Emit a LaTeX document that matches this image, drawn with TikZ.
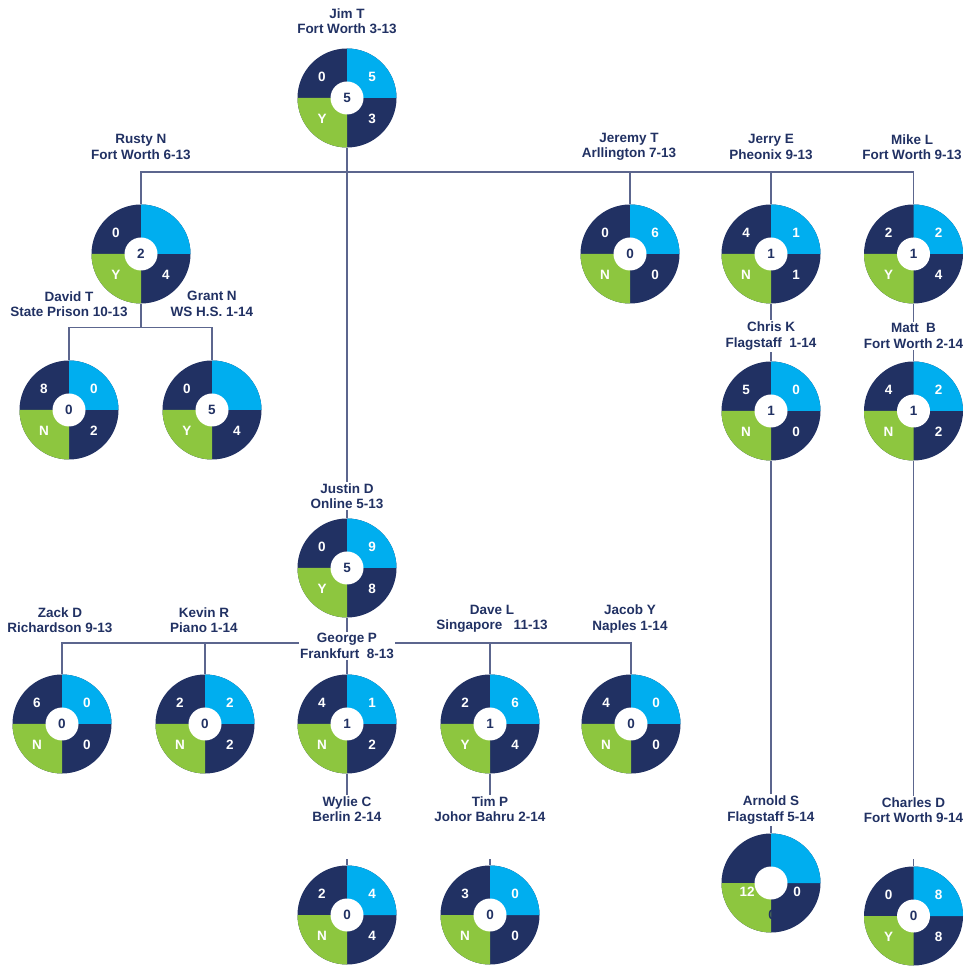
\documentclass[tikz,border=0pt]{standalone}
\usepackage{fontspec}
\setsansfont{Liberation Sans}
\usepackage{xcolor}
\usepackage{tikz}
\usetikzlibrary{positioning}
\usetikzlibrary{backgrounds}
\definecolor{dnavy}{RGB}{33,49,99}
\definecolor{dblue}{RGB}{0,174,239}
\definecolor{dgreen}{RGB}{141,198,63}
\definecolor{dline}{RGB}{92,102,142}
\tikzset{
    ring/.style = {circle, draw=none, inner sep=0pt, minimum size=99pt},
    qnum/.style = {text=white, inner sep=0pt, font=\sffamily\bfseries\fontsize{13.5}{15}\selectfont},
    cnum/.style = {text=dnavy, inner sep=0pt, font=\sffamily\bfseries\fontsize{13.5}{15}\selectfont},
    lbl/.style = {align=center, text=dnavy, inner sep=1.5pt, font=\sffamily\bfseries\fontsize{13.5}{15.5}\selectfont},
    lblw/.style = {lbl, fill=white},
}
% name, x, y, top-left, top-right, bottom-left, bottom-right, centre
\newcommand{\donut}[8]{%
  \fill[dnavy] (#2,#3) circle (49.5pt);
  \fill[dblue] (#2,#3) -- ++(0,49.5pt) arc (90:0:49.5pt) -- cycle;
  \fill[dgreen] (#2,#3) -- ++(0,-49.5pt) arc (270:180:49.5pt) -- cycle;
  \fill[white] (#2,#3) circle (16.5pt);
  \node[ring] (#1) at (#2,#3) {};
  \node[qnum] at ([shift={(-25pt,21pt)}]#1.center) {#4};
  \node[qnum] at ([shift={(25pt,21pt)}]#1.center) {#5};
  \node[qnum] at ([shift={(-25pt,-21pt)}]#1.center) {#6};
  \node[qnum] at ([shift={(25pt,-21pt)}]#1.center) {#7};
  \node[cnum] at (#1.center) {#8};
}
\begin{document}
\begin{tikzpicture}[x=1pt, y=1pt]
\tikzset{
    link/.style = {draw=dline, line width=1.4pt}
}
\useasboundingbox (0,0) rectangle (969,967);
%
\node[lbl] at (347,946) (jimL) {Jim T\\Fort Worth 3-13};
\node[lbl] at (141,820) (rustyL) {Rusty N\\Fort Worth 6-13};
\node[lbl] at (69,663) (davidL) {David T\\State Prison 10-13};
\node[lbl] at (212,663) (grantL) {Grant N\\WS H.S. 1-14};
\node[lbl] at (629,820) (jeremyL) {Jeremy T\\Arllington 7-13};
\node[lbl] at (771,820) (jerryL) {Jerry E\\Pheonix 9-13};
\node[lbl] at (912,820) (mikeL) {Mike L\\Fort Worth 9-13};
\node[lbl] at (60,347) (zackL) {Zack D\\Richardson 9-13};
\node[lbl] at (204,347) (kevinL) {Kevin R\\Piano 1-14};
\node[lbl] at (492,348) (daveL) {Dave L\\Singapore\ \ \ 11-13};
\node[lbl] at (630,348) (jacobL) {Jacob Y\\Naples 1-14};
%
\donut{jim}{347}{869}{0}{5}{Y}{3}{5}
\donut{rusty}{141}{713}{0}{}{Y}{4}{2}
\donut{david}{69}{557}{8}{0}{N}{2}{0}
\donut{grant}{212}{557}{0}{}{Y}{4}{5}
\donut{jeremy}{630}{713}{0}{6}{N}{0}{0}
\donut{jerry}{771}{713}{4}{1}{N}{1}{1}
\donut{mike}{913.5}{713}{2}{2}{Y}{4}{1}
\donut{chris}{771}{556}{5}{0}{N}{0}{1}
\donut{matt}{913.5}{556}{4}{2}{N}{2}{1}
\donut{justin}{347}{399}{0}{9}{Y}{8}{5}
\donut{zack}{62}{243}{6}{0}{N}{0}{0}
\donut{kevin}{205}{243}{2}{2}{N}{2}{0}
\donut{george}{347}{243}{4}{1}{N}{2}{1}
\donut{dave}{490}{243}{2}{6}{Y}{4}{1}
\donut{jacob}{631}{243}{4}{0}{N}{0}{0}
\donut{wylie}{347}{52}{2}{4}{N}{4}{0}
\donut{tim}{490}{52}{3}{0}{N}{0}{0}
\donut{arnold}{771}{84}{}{}{}{}{}
\donut{charles}{913.5}{51}{0}{8}{Y}{8}{0}
\node[qnum] at (747,75) {12};
\node[qnum] at (797,75) {0};
\node[cnum] at (772,52) {0};
%
\node[lblw] at (771,631) (chrisL) {Chris K\\Flagstaff\ \ 1-14};
\node[lblw] at (913.5,631) (mattL) {Matt\ \ B\\Fort Worth 2-14};
\node[lblw] at (347,471) (justinL) {Justin D\\Online 5-13};
\node[lblw] at (347,321) (georgeL) {George P\\Frankfurt\ \ 8-13};
\node[lbl] at (347,158) (wylieL) {Wylie C\\Berlin 2-14};
\node[lbl] at (490,158) (timL) {Tim P\\Johor Bahru 2-14};
\node[lblw] at (771,157) (arnoldL) {Arnold S\\Flagstaff 5-14};
\node[lbl] at (913.5,157) (charlesL) {Charles D\\Fort Worth 9-14};
%
\coordinate (busA) at (347,795);
\coordinate (busB) at (347,324);
\coordinate (wylieS) at (347,108);
\coordinate (timS) at (490,108);
\coordinate (charlesS) at (913.5,108);
%
\begin{scope}[on background layer]
\draw[link] (rusty.north) |- (busA) -| (mike.north);
\draw[link] (jeremy.north) -- (jeremy.north |- busA);
\draw[link] (jerry.north) -- (jerry.north |- busA);
\draw[link] (jim.south) -- (justin.north);
\draw[link] (rusty.south) -- ++(0,-24) -| (david.north);
\draw[link] (rusty.south) -- ++(0,-24) -| (grant.north);
\draw[link] (jerry.south) -- (chris.north);
\draw[link] (mike.south) -- (matt.north);
\draw[link] (chris.south) -- (arnold.north);
\draw[link] (matt.south) -- (charlesL.north);
\draw[link] (charlesS) -- (charles.north);
%
\draw[link] (justin.south) -- (george.north);
\draw[link] (zack.north) |- (busB) -| (jacob.north);
\draw[link] (kevin.north) -- (kevin.north |- busB);
\draw[link] (dave.north) -- (dave.north |- busB);
\draw[link] (george.south) -- (wylieL.north);
\draw[link] (wylieS) -- (wylie.north);
\draw[link] (dave.south) -- (timL.north);
\draw[link] (timS) -- (tim.north);
\end{scope}
\end{tikzpicture}
\end{document}
